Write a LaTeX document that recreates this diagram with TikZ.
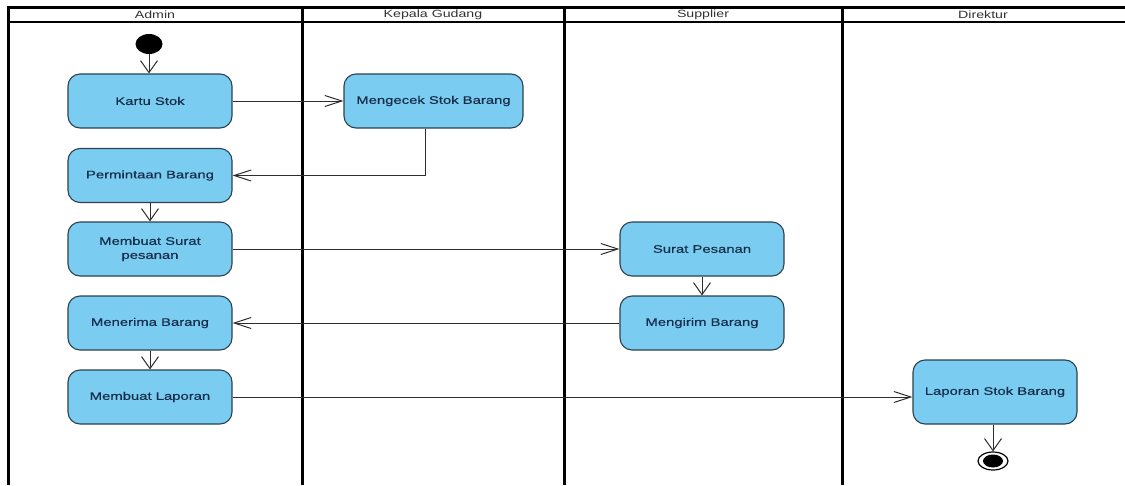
\documentclass[tikz,border=0pt]{standalone}
\usepackage{fontspec}
\setmainfont[FakeStretch=1.35]{Liberation Sans}
\newfontfamily\actfont[FakeStretch=1.35,FakeBold=0.35]{Liberation Sans}
\usetikzlibrary{arrows.meta,shapes.geometric}
\definecolor{actfill}{RGB}{122,204,240}
\definecolor{actdraw}{RGB}{45,65,80}
\definecolor{acttext}{RGB}{22,45,75}
\definecolor{conn}{RGB}{45,45,45}
\definecolor{headtext}{RGB}{50,50,50}
\begin{document}
\begin{tikzpicture}[x=1pt,y=-1pt,
  act/.style={draw=actdraw, line width=1.1pt, fill=actfill, rounded corners=12pt,
    minimum width=164pt, minimum height=54pt, inner sep=0pt,
    font=\actfont\fontsize{11}{14}\selectfont, text=acttext, align=center, anchor=center},
  lanev/.style={line width=3pt, black},
  laneh/.style={line width=2.2pt, black},
  lanehead/.style={font=\fontsize{10.5}{12}\selectfont, text=headtext, inner sep=0pt},
  hflow/.style={draw=conn, line width=1pt, -{Straight Barb[length=17pt,width=11pt]}},
  vflow/.style={draw=conn, line width=1pt, -{Straight Barb[length=12pt,width=17pt]}},
  initial/.style={ellipse, fill=black, minimum width=27pt, minimum height=20pt, inner sep=0pt},
  finalout/.style={ellipse, draw=black, line width=1.2pt, fill=white, minimum width=30pt, minimum height=18pt, inner sep=0pt},
  finalin/.style={ellipse, fill=black, minimum width=20pt, minimum height=13pt, inner sep=0pt}
]
\fill[white] (0,0) rectangle (1125,485);
\path[use as bounding box] (0,0) rectangle (1125,485);

% swimlane frame
\draw[laneh] (7,7.5) -- (1125,7.5);
\draw[laneh] (7,22) -- (1125,22);
\draw[lanev] (8.5,6.4) -- (8.5,485);
\draw[lanev] (302,6.4) -- (302,485);
\draw[lanev] (564.5,6.4) -- (564.5,485);
\draw[lanev] (842.5,6.4) -- (842.5,485);

\node[lanehead] (hA) at (155,14.8) {Admin};
\node[lanehead] (hK) at (433,14.8) {Kepala Gudang};
\node[lanehead] (hS) at (703,14.8) {Supplier};
\node[lanehead] (hD) at (983,14.8) {Direktur};

% nodes
\node[initial] (start) at (149,44) {};
\node[act] (kartu) at (150,101) {Kartu Stok};
\node[act, minimum width=179pt] (cek) at (433.5,101) {Mengecek Stok Barang};
\node[act] (minta) at (150,175.5) {Permintaan Barang};
\node[act] (surat) at (150,249) {Membuat Surat\\pesanan};
\node[act] (terima) at (150,323) {Menerima Barang};
\node[act] (lapor) at (150,397) {Membuat Laporan};
\node[act] (sp) at (702,249) {Surat Pesanan};
\node[act] (kirim) at (702,323) {Mengirim Barang};
\node[act, minimum height=64pt] (lsb) at (995,392) {Laporan Stok Barang};
\node[finalout] (endo) at (993,461) {};
\node[finalin] (endi) at (endo) {};

% flows
\draw[vflow] (start) -- (start |- kartu.north);
\draw[hflow] (kartu) -- (cek);
\draw[hflow] ([xshift=-8pt]cek.south) |- (minta.east);
\draw[vflow] (minta) -- (surat);
\draw[hflow] (surat) -- (sp);
\draw[vflow] (sp) -- (kirim);
\draw[hflow] (kirim) -- (terima);
\draw[vflow] (terima) -- (lapor);
\draw[hflow] (lapor.east) -- (lapor.east -| lsb.west);
\draw[vflow] (lsb.south -| endo.north) -- (endo.north);
\end{tikzpicture}
\end{document}
